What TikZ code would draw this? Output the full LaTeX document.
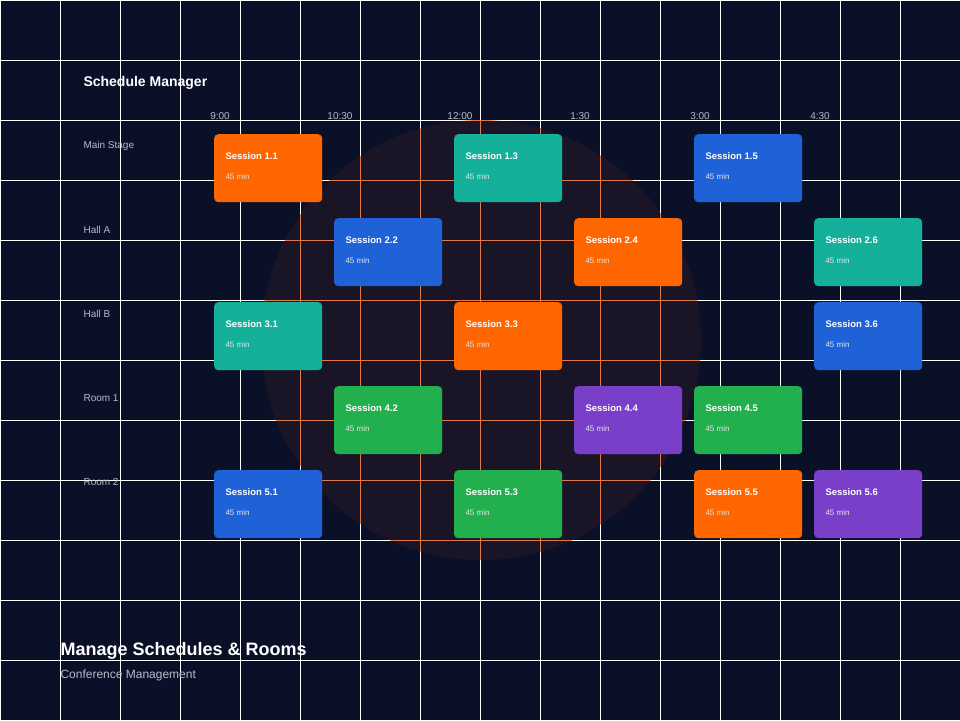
\documentclass[tikz,border=0pt]{standalone}
\usepackage{fontspec}
\setmainfont{Liberation Sans}
\usepackage{xcolor}
\usepackage{tikz}
\definecolor{BgNavy}{HTML}{0B1029}
\definecolor{CircleDark}{HTML}{1A1526}
\definecolor{GridOrange}{HTML}{E07A48}
\definecolor{SOrange}{HTML}{FF6600}
\definecolor{STeal}{HTML}{14B09A}
\definecolor{SBlue}{HTML}{1F62D8}
\definecolor{SGreen}{HTML}{22B04F}
\definecolor{SPurple}{HTML}{7A3FC8}
\definecolor{LabelGray}{HTML}{B8BCC8}

\begin{document}
\begin{tikzpicture}[x=1pt, y=-1pt,
	session/.style={rounded corners=4pt, minimum width=108pt, minimum height=68pt, inner sep=0pt, anchor=north west},
	stitle/.style={anchor=west, text=white, font=\fontsize{9.5}{10}\selectfont\bfseries},
	sdur/.style={anchor=west, text=white!80!gray, font=\fontsize{8}{9}\selectfont},
	glabel/.style={text=LabelGray, font=\fontsize{10}{11}\selectfont}]
				\fill[BgNavy] (0,0) rectangle (960,720);
				\useasboundingbox (0,0) rectangle (960,720);
				\fill[CircleDark] (481,340) circle (220);

				\foreach \g in {0,60,...,960} {
					\draw[white, line width=0.9pt] (\g,0) -- (\g,720);
				}
				\foreach \g in {0,60,...,720} {
					\draw[white, line width=0.9pt] (0,\g) -- (960,\g);
				}
				\begin{scope}
					\clip (481,340) circle (220);
					\foreach \g in {0,60,...,960} {
						\draw[GridOrange, line width=0.9pt] (\g,0) -- (\g,720);
					}
					\foreach \g in {0,60,...,720} {
						\draw[GridOrange, line width=0.9pt] (0,\g) -- (960,\g);
					}
				\end{scope}

				\node[anchor=west, text=white, font=\fontsize{14}{15}\selectfont\bfseries] (header) at (80,83) {Schedule Manager};

				\foreach \slot [count=\j] in {9:00, 10:30, 12:00, 1:30, 3:00, 4:30} {
					\node[glabel] (time\j) at (220+\j*120-120,116) {\slot};
				}
				\foreach \room [count=\i] in {Main Stage, Hall A, Hall B, Room 1, Room 2} {
					\node[glabel, anchor=west] (room\i) at (80,146+\i*84-84) {\room};
				}

				\foreach \row/\col/\shade in {1/1/SOrange, 1/3/STeal, 1/5/SBlue,
					2/2/SBlue, 2/4/SOrange, 2/6/STeal,
					3/1/STeal, 3/3/SOrange, 3/6/SBlue,
					4/2/SGreen, 4/4/SPurple, 4/5/SGreen,
					5/1/SBlue, 5/3/SGreen, 5/5/SOrange, 5/6/SPurple} {
					\node[session, fill=\shade] (s\row\col) at (214+\col*120-120,134+\row*84-84) {};
					\node[stitle] (t\row\col) at ([xshift=8pt, yshift=-22pt]s\row\col.north west) {Session \row.\col};
					\node[sdur] (d\row\col) at ([xshift=8pt, yshift=-43pt]s\row\col.north west) {45 min};
				}

				\node[anchor=west, text=white, font=\fontsize{18}{19}\selectfont\bfseries] (title) at (57,651) {Manage Schedules \& Rooms};
				\node[anchor=west, text=LabelGray, font=\fontsize{12}{13}\selectfont] (subtitle) at (57,675) {Conference Management};
			\end{tikzpicture}
\end{document}
